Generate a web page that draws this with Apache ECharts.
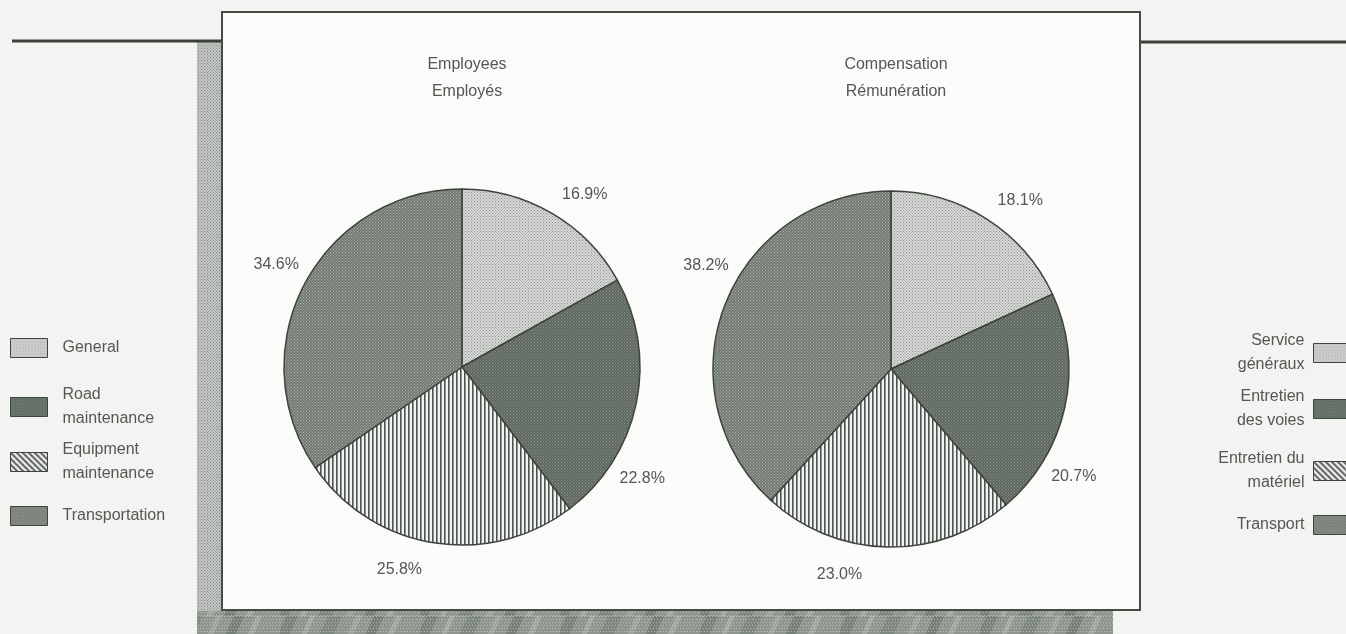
<!DOCTYPE html>
<html>
<head>
<meta charset="utf-8">
<script src="https://cdn.jsdelivr.net/npm/echarts@6/dist/echarts.min.js"></script>
<style>
  html, body { margin: 0; padding: 0; background: #f3f3f1; }
  #chart { width: 1346px; height: 634px; }
</style>
</head>
<body>
<div id="chart"></div>
<script>
// Shares of employees and of compensation by activity
const categories = ['General', 'Road maintenance', 'Equipment maintenance', 'Transportation'];
const legendEn = ['General', 'Road\nmaintenance', 'Equipment\nmaintenance', 'Transportation'];
const legendFr = ['Service\ngénéraux', 'Entretien\ndes voies', 'Entretien du\nmatériel', 'Transport'];
const employeesShare = [16.9, 22.8, 25.8, 34.6];
const compensationShare = [18.1, 20.7, 23.0, 38.2];
const pieTitles = ['Employees\nEmployés', 'Compensation\nRémunération'];

const FONT = '"Liberation Sans", Arial, Helvetica, sans-serif';
const TEXT = '#535853';

// ---- fill patterns (screen-tone look) ----
function tile(w, h, draw) {
  const c = document.createElement('canvas');
  c.width = w; c.height = h;
  draw(c.getContext('2d'), w, h);
  return { image: c, repeat: 'repeat' };
}
function dots(bg, fg, size) {
  return tile(size, size, (ctx, w) => {
    ctx.fillStyle = bg; ctx.fillRect(0, 0, w, w);
    ctx.fillStyle = fg;
    ctx.fillRect(0, 0, 1, 1);
    ctx.fillRect(w / 2, w / 2, 1, 1);
  });
}
const fillGeneral = dots('#d6d8d6', '#8e938e', 3);
const fillRoad = dots('#5f685f', '#8d958d', 3);
const fillTransport = dots('#737a73', '#aab0aa', 3);
const fillEquipPie = tile(4, 4, (ctx) => {
  ctx.fillStyle = '#f1f2f1'; ctx.fillRect(0, 0, 4, 4);
  ctx.fillStyle = '#4d544d'; ctx.fillRect(0, 0, 1.6, 4);
});
const fillEquipKey = tile(6, 6, (ctx) => {
  ctx.fillStyle = '#f4f4f4'; ctx.fillRect(0, 0, 6, 6);
  ctx.strokeStyle = '#3f453f'; ctx.lineWidth = 1.7;
  ctx.beginPath();
  for (let k = -2; k <= 2; k++) { ctx.moveTo(k * 6 - 1, -1); ctx.lineTo(k * 6 + 7, 7); }
  ctx.stroke();
});
const sliceFills = [fillGeneral, fillRoad, fillEquipPie, fillTransport];
const keyFills = [fillGeneral, fillRoad, fillEquipKey, fillTransport];

// backdrop tones for the card's drop shadow
const shadowSide = dots('#c6c8c6', '#7d827d', 3);
const shadowBottom = tile(140, 22, (ctx) => {
  ctx.fillStyle = '#8e968e'; ctx.fillRect(0, 0, 140, 22);
  const streaks = [[6, 12, '#7a837a'], [30, 5, '#a3aba3'], [48, 14, '#7f887f'], [76, 6, '#9ea69e'],
                   [94, 10, '#768076'], [116, 6, '#a1a9a1']];
  streaks.forEach(([x, w, col]) => {
    ctx.fillStyle = col;
    ctx.beginPath();
    ctx.moveTo(x, 0); ctx.lineTo(x + w, 0); ctx.lineTo(x + w - 10, 22); ctx.lineTo(x - 10, 22);
    ctx.closePath(); ctx.fill();
  });
  ctx.fillStyle = 'rgba(222,226,222,0.55)';
  for (let y = 0; y < 22; y += 3) for (let x = (y % 2); x < 140; x += 3) ctx.fillRect(x, y, 1, 1);
});

// ---- layout ----
const pieCenters = [[462, 367], [891, 369]];
const pieRadius = 178;
const labelGap = 34;                               // label centre distance beyond the rim
const labelTurn = [[5, 20, 8, 1], [5, 18, 13, 8]]; // clockwise turn of each label from its slice middle (deg)
const keyCentersLeft = [348, 407, 462, 516];
const keyCentersRight = [353, 409, 471, 525];
const KEY_W = 37, KEY_H = 19, LINE_H = 24, FS = 16;

function pieSeries(values, si) {
  const total = values.reduce((a, b) => a + b, 0);
  const c = pieCenters[si];
  return {
    type: 'pie',
    center: c,
    radius: pieRadius,
    startAngle: 90,
    clockwise: true,
    avoidLabelOverlap: false,
    silent: true,
    data: categories.map((name, i) => ({
      name: name,
      value: values[i],
      itemStyle: { color: sliceFills[i] }
    })),
    itemStyle: { borderColor: '#3d433d', borderWidth: 1.5 },
    label: {
      show: true,
      position: 'outside',
      formatter: (p) => p.value.toFixed(1) + '%',
      color: TEXT,
      fontFamily: FONT,
      fontSize: FS
    },
    labelLine: { show: false, length: 14, length2: 4 },
    labelLayout: (p) => {
      let before = 0;
      for (let k = 0; k < p.dataIndex; k++) before += values[k];
      const mid = (before + values[p.dataIndex] / 2) / total * 360;
      const a = (mid + labelTurn[si][p.dataIndex]) * Math.PI / 180;
      const r = pieRadius + labelGap;
      return {
        x: c[0] + r * Math.sin(a),
        y: c[1] - r * Math.cos(a),
        align: 'center',
        verticalAlign: 'middle'
      };
    },
    emphasis: { disabled: true }
  };
}

function keyEntry(i, labels, centerY, side) {
  const lines = labels[i].split('\n').length;
  const h = Math.max(KEY_H, lines * LINE_H);
  const legend = {
    orient: 'vertical',
    top: centerY - h / 2 - 5,
    icon: 'rect',
    itemWidth: KEY_W,
    itemHeight: KEY_H,
    selectedMode: false,
    data: [{ name: categories[i], itemStyle: { color: keyFills[i], borderColor: '#3d433d', borderWidth: 1 } }],
    formatter: () => labels[i],
    textStyle: {
      color: TEXT, fontFamily: FONT, fontSize: FS, lineHeight: LINE_H,
      padding: side === 'left' ? [0, 0, 0, 10] : [0, 4, 0, 0]
    }
  };
  if (side === 'left') { legend.left = 5; legend.align = 'left'; }
  else { legend.right = -10; legend.align = 'right'; }
  return legend;
}

const legends = [];
categories.forEach((_, i) => legends.push(keyEntry(i, legendEn, keyCentersLeft[i], 'left')));
categories.forEach((_, i) => legends.push(keyEntry(i, legendFr, keyCentersRight[i], 'right')));

const option = {
  backgroundColor: '#f3f3f1',
  animation: false,
  title: pieTitles.map((t, i) => ({
    text: t,
    left: pieCenters[i][0],
    top: 46,
    textAlign: 'center',
    textStyle: { color: TEXT, fontFamily: FONT, fontSize: FS, fontWeight: 'normal', lineHeight: 27 }
  })),
  legend: legends,
  graphic: [
    { type: 'rect', z: -10, shape: { x: 197, y: 42, width: 26, height: 592 }, style: { fill: shadowSide } },
    { type: 'rect', z: -10, shape: { x: 197, y: 611, width: 916, height: 23 }, style: { fill: shadowBottom } },
    { type: 'line', z: -9, shape: { x1: 12, y1: 41, x2: 223, y2: 41 }, style: { stroke: '#3b413b', lineWidth: 3 } },
    { type: 'line', z: -9, shape: { x1: 1140, y1: 42, x2: 1346, y2: 42 }, style: { stroke: '#3b413b', lineWidth: 3 } },
    { type: 'rect', z: -8, shape: { x: 222, y: 12, width: 918, height: 598 },
      style: { fill: '#fbfbfa', stroke: '#454b45', lineWidth: 2 } }
  ],
  series: [
    pieSeries(employeesShare, 0),
    pieSeries(compensationShare, 1)
  ]
};

const chart = echarts.init(document.getElementById('chart'), null, { renderer: 'canvas' });
chart.setOption(option);
</script>
</body>
</html>
